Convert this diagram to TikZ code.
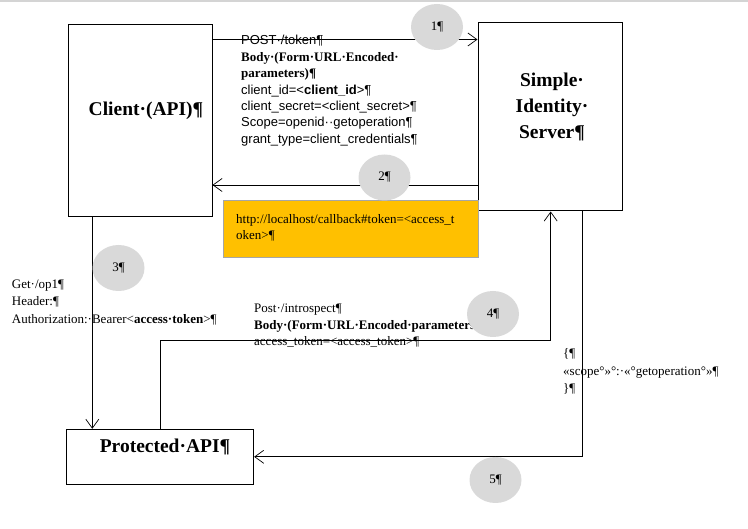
\documentclass[tikz,border=0pt]{standalone}
\usepackage{fontspec}
\setmainfont{Liberation Serif}
\newfontfamily\arialfont{Liberation Sans}
\usetikzlibrary{arrows.meta,shapes.geometric}
\definecolor{stepgray}{HTML}{D9D9D9}
\definecolor{tokenorange}{HTML}{FFC000}
\definecolor{tokenedge}{HTML}{A6A6A6}
\definecolor{topgray}{HTML}{D4D4D4}

\begin{document}
\begin{tikzpicture}[x=1pt, y=-1pt,
    party/.style={draw, line width=1pt, inner sep=0pt},
    partylabel/.style={font=\fontsize{19.5}{26}\selectfont\bfseries, align=center, inner sep=0pt},
    msg/.style={font=\fontsize{13}{16.4}\selectfont, align=left, inner sep=0pt, anchor=base west},
    flow/.style={line width=0.9pt, -{Straight Barb[length=9pt,width=13pt,line width=0.7pt]}},
    stepno/.style={ellipse, fill=stepgray, minimum width=52pt, minimum height=46pt, inner sep=0pt, font=\fontsize{13}{15}\selectfont}]

        \fill[topgray] (0,0) rectangle (748,2.3);
        \useasboundingbox (0,0) rectangle (748,529);

        \node[party, minimum width=144pt, minimum height=192pt] (client) at (140,121) {};
        \node[party, minimum width=144pt, minimum height=188pt] (server) at (550,117) {};
        \node[party, minimum width=186.7pt, minimum height=55pt] (papi) at (160.3,456.8) {};

        \node[partylabel] (clientlbl) at (146,111) {Client·(API)¶};
        \node[partylabel] (serverlbl) at (552,107) {Simple·\\Identity·\\Server¶};
        \node[partylabel] (papilbl) at (165,446.5) {Protected·API¶};

        \draw[flow] (client.east |- 0,39.5) -- (server.west |- 0,39.5);
        \draw[flow] (server.west |- 0,185) -- (client.east |- 0,185);
        \draw[flow] (client.south -| 92.3,0) -- (papi.north -| 92.3,0);
        \coordinate (hop) at (550.7,340.7);
        \draw[flow] (papi.north -| 160.3,0) |- (hop) -- (server.south -| hop);
        \draw[flow] (server.south -| 582.3,0) |- (papi.east);

        \node[draw=tokenedge, fill=tokenorange, line width=1pt, minimum width=255pt, minimum height=56.6pt] (callback) at (350.8,229) {};
        \node[msg] (callbacktxt) at (236,240) {http://localhost/callback\#token=<access\_t\\oken>¶};

        % anchors are on the last line
        \node[msg] (tokenreq) at (241,143.3) {{\arialfont POST·/token¶}\\
            \textbf{Body·(Form·URL·Encoded·}\\
            \textbf{parameters)¶}\\
            {\arialfont client\_id=<\textbf{client\_id}>¶}\\
            {\arialfont client\_secret=<client\_secret>¶}\\
            {\arialfont Scope=openid··getoperation¶}\\
            {\arialfont grant\_type=client\_credentials¶}};
        \node[msg, font=\fontsize{13}{17.5}\selectfont] (apireq) at (11.7,323.3) {Get·/op1¶\\Header:¶\\Authorization:·Bearer<\textbf{access·token}>¶};
        \begin{scope}
            \clip (240,290) rectangle (474,352);
            \node[msg] (introreq) at (254,345.7) {Post·/introspect¶\\\textbf{Body·(Form·URL·Encoded·parameters)¶}\\access\_token=<access\_token>¶};
        \end{scope}
        \node[msg, font=\fontsize{13}{17.5}\selectfont] (introresp) at (563,393) {\{¶\\«scope°»°:·«°getoperation°»¶\\\}¶};

        \node[stepno] (n1) at (437,27) {1¶};
        \node[stepno] (n2) at (384.5,177.5) {2¶};
        \node[stepno] (n3) at (118.5,268) {3¶};
        \node[stepno] (n4) at (493,314) {4¶};
        \node[stepno] (n5) at (495.5,480) {5¶};

    \end{tikzpicture}
\end{document}
